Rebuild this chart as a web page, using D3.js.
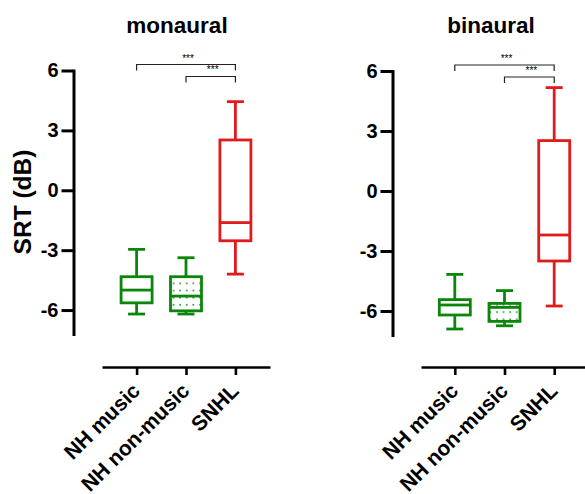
<!DOCTYPE html>
<html>
<head>
<meta charset="utf-8">
<title>SRT</title>
<script src="https://d3js.org/d3.v7.min.js"></script>
<style>
  body { margin: 0; background: #fff; }
  text { font-family: Arial, "Liberation Sans", sans-serif; font-weight: bold; fill: #000; }
  .axis path, .axis line { stroke: #000; stroke-width: 3px; fill: none; }
  .axis text { font-size: 20px; }
  .xaxis path, .xaxis line { stroke-width: 2.6px; }
  .xaxis text { font-size: 21px; }
</style>
</head>
<body>
<div id="chart"></div>
<script>
// groups on the x axis
var groups = ["NH music", "NH non-music", "SNHL"];
var panels = ["monaural", "binaural"];
var yTicks = [-6, -3, 0, 3, 6];

// box stats per group: [min, q1, median, q3, max]
var monaural = [
  [-6.2, -5.64, -5.0, -4.33, -2.96],
  [-6.2, -6.04, -5.3, -4.33, -3.38],
  [-4.2, -2.53, -1.62, 2.52, 4.44]
];
var binaural = [
  [-6.9, -6.2, -5.7, -5.43, -4.17],
  [-6.74, -6.52, -5.82, -5.62, -4.98],
  [-5.75, -3.5, -2.2, 2.52, 5.17]
];
// significance brackets: from, to, level (dB), label
var sigFrom = ["NH music", "NH non-music"];
var sigTo = ["SNHL", "SNHL"];
var sigLevel = [6.3, 5.7];
var sigLabel = ["***", "***"];

var colors = ["#0a870a", "#0a870a", "#e01b1b"];

var width = 585, height = 494;
var svg = d3.select("#chart").append("svg")
  .attr("width", width).attr("height", height);

// dotted fill for the non-music box
var pat = svg.append("defs").append("pattern")
  .attr("id", "dots").attr("patternUnits", "userSpaceOnUse")
  .attr("width", 6.6).attr("height", 7.2);
pat.append("circle").attr("cx", 2).attr("cy", 2.5).attr("r", 0.9).attr("fill", "#0a870a");

var layout = [
  { data: monaural, yAxisX: 73.5, yRange: [334, 70.5], xRange: [102, 270], xPad: 0.7, titleX: 177 },
  { data: binaural, yAxisX: 392.5, yRange: [335, 71], xRange: [421, 588], xPad: 0.68, titleX: 491 }
];

panels.forEach(function(name, p) {
  var L = layout[p];
  var g = svg.append("g");

  var y = d3.scaleLinear().domain([-7.2, 6]).range(L.yRange);
  var x = d3.scalePoint().domain(groups).range(L.xRange).padding(L.xPad);

  // title
  g.append("text")
    .attr("x", L.titleX).attr("y", 33)
    .attr("text-anchor", "middle")
    .style("font-size", "22.5px")
    .text(name);

  // y axis
  var ya = g.append("g").attr("class", "axis")
    .attr("transform", "translate(" + L.yAxisX + ",0)")
    .call(d3.axisLeft(y).tickValues(yTicks).tickSize(12).tickSizeOuter(0).tickPadding(3)
      .tickFormat(function(d) { return String(d); }));
  ya.select(".domain").attr("stroke-linecap", "square");

  // x axis
  var xa = g.append("g").attr("class", "axis xaxis")
    .attr("transform", "translate(0,367)")
    .call(d3.axisBottom(x).tickSize(8).tickSizeOuter(0));
  xa.selectAll(".tick text")
    .attr("text-anchor", "end")
    .attr("dy", "0.35em")
    .attr("transform", "translate(-1,20) rotate(-45)")
    .attr("y", 0).attr("x", 0);

  // boxes
  var bw = 31, cw = 17;
  L.data.forEach(function(s, i) {
    var cx = x(groups[i]);
    var col = colors[i];
    var bg = g.append("g").attr("stroke", col).attr("stroke-width", 2.8).attr("fill", "none");
    bg.append("line").attr("x1", cx).attr("x2", cx).attr("y1", y(s[4])).attr("y2", y(s[3]));
    bg.append("line").attr("x1", cx).attr("x2", cx).attr("y1", y(s[1])).attr("y2", y(s[0]));
    bg.append("line").attr("x1", cx - cw / 2).attr("x2", cx + cw / 2).attr("y1", y(s[4])).attr("y2", y(s[4]));
    bg.append("line").attr("x1", cx - cw / 2).attr("x2", cx + cw / 2).attr("y1", y(s[0])).attr("y2", y(s[0]));
    bg.append("rect")
      .attr("x", cx - bw / 2).attr("width", bw)
      .attr("y", y(s[3])).attr("height", y(s[1]) - y(s[3]))
      .attr("fill", i === 1 ? "url(#dots)" : "#fff");
    bg.append("line").attr("x1", cx - bw / 2).attr("x2", cx + bw / 2).attr("y1", y(s[2])).attr("y2", y(s[2]));
  });

  // significance brackets
  sigFrom.forEach(function(f, k) {
    var x1 = x(f), x2 = x(sigTo[k]), yy = y(sigLevel[k]);
    g.append("path")
      .attr("d", "M" + x1 + "," + (yy + 6) + "V" + yy + "H" + x2 + "V" + (yy + 6))
      .attr("fill", "none").attr("stroke", "#222").attr("stroke-width", 1.2);
    g.append("text")
      .attr("x", (x1 + x2) / 2 + 2).attr("y", yy - 3)
      .attr("text-anchor", "middle")
      .style("font-size", "10px").style("font-weight", "normal")
      .text(sigLabel[k]);
  });

  // y label only on the first panel
  if (p === 0) {
    g.append("text")
      .attr("transform", "translate(31,202) rotate(-90)")
      .attr("text-anchor", "middle")
      .style("font-size", "24.5px")
      .text("SRT (dB)");
  }
});
</script>
</body>
</html>
